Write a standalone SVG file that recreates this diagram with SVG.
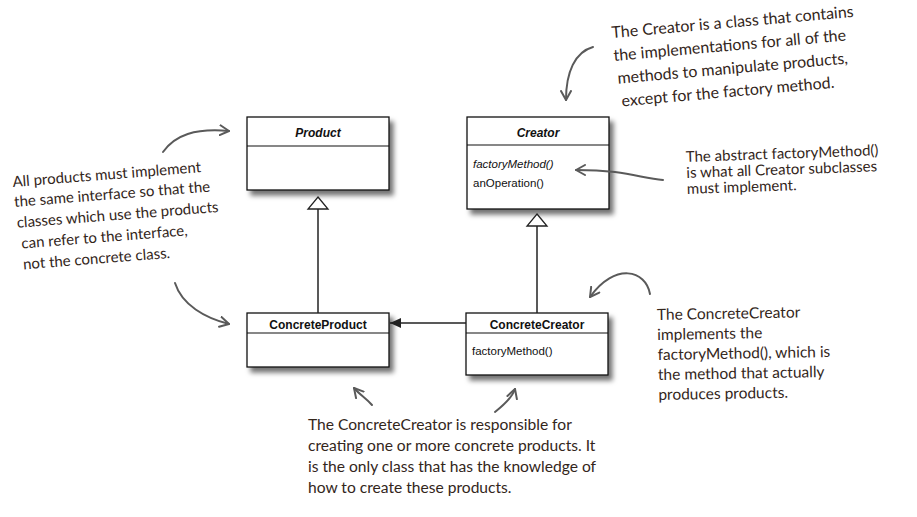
<svg xmlns="http://www.w3.org/2000/svg" width="917" height="517" viewBox="0 0 917 517">
<defs>
<filter id="sh" x="-10%" y="-10%" width="130%" height="140%">
<feDropShadow dx="4" dy="5" stdDeviation="2.5" flood-color="#000" flood-opacity="0.55"/>
</filter>
<marker id="hand" viewBox="0 0 12 12" refX="10" refY="6" markerWidth="12" markerHeight="12" markerUnits="userSpaceOnUse" orient="auto">
<path d="M1,1 L10,6 L1,11" fill="none" stroke="#5a5a5a" stroke-width="2" stroke-linecap="round" stroke-linejoin="round"/>
</marker>
<marker id="filled" viewBox="0 0 12 10" refX="11" refY="5" markerWidth="12" markerHeight="10" markerUnits="userSpaceOnUse" orient="auto">
<path d="M0,0 L11,5 L0,10 Z" fill="#222"/>
</marker>
</defs>
<style>
.box{fill:#fff;stroke:#111;stroke-width:1.3}
.div{stroke:#111;stroke-width:1.2}
.title{font-family:"Liberation Sans",Arial,sans-serif;font-size:12px;font-weight:bold;fill:#111}
.meth{font-family:"Liberation Sans",Arial,sans-serif;font-size:11.5px;fill:#111}
.edge{stroke:#222;stroke-width:1.5;fill:none}
.tri{fill:#fff;stroke:#222;stroke-width:1.3}
.callout{stroke:#5a5a5a;stroke-width:2;fill:none;stroke-linecap:round}
.note{font-family:Lato,"Open Sans",sans-serif;font-size:15px;fill:#33261b}
</style>
<rect width="917" height="517" fill="#fff"/>

<g id="Product">
<rect class="box" x="247" y="117" width="142" height="73" filter="url(#sh)"/>
<line class="div" x1="247" y1="146" x2="389" y2="146"/>
<text class="title" x="318" y="137" text-anchor="middle" font-style="italic">Product</text>
</g>

<g id="Creator">
<rect class="box" x="467" y="117" width="142" height="92" filter="url(#sh)"/>
<line class="div" x1="467" y1="145" x2="609" y2="145"/>
<text class="title" x="538" y="137" text-anchor="middle" font-style="italic">Creator</text>
<text class="meth" x="473" y="168" font-style="italic">factoryMethod()</text>
<text class="meth" x="473" y="187">anOperation()</text>
</g>

<g id="ConcreteProduct">
<rect class="box" x="247" y="313" width="142" height="54" filter="url(#sh)"/>
<line class="div" x1="247" y1="333" x2="389" y2="333"/>
<text class="title" x="318" y="329" text-anchor="middle">ConcreteProduct</text>
</g>

<g id="ConcreteCreator">
<rect class="box" x="466" y="313" width="142" height="62" filter="url(#sh)"/>
<line class="div" x1="466" y1="333" x2="608" y2="333"/>
<text class="title" x="537" y="329" text-anchor="middle">ConcreteCreator</text>
<text class="meth" x="472" y="355">factoryMethod()</text>
</g>

<g id="connectors">
<line class="edge" x1="318" y1="209" x2="318" y2="313"/>
<path class="tri" d="M318,197 L328,209 L308,209 Z"/>
<line class="edge" x1="537" y1="226" x2="537" y2="313"/>
<path class="tri" d="M537,214 L547,226 L527,226 Z"/>
<line class="edge" x1="466" y1="323" x2="390" y2="323" marker-end="url(#filled)"/>
</g>

<g id="callouts">
<path class="callout" d="M163,152 C175,135 195,128 229,131" marker-end="url(#hand)"/>
<path class="callout" d="M175,283 C182,305 205,318 229,324" marker-end="url(#hand)"/>
<path class="callout" d="M593,47 C575,52 566,72 566,100" marker-end="url(#hand)"/>
<path class="callout" d="M663,180 C640,178 625,170 576,170" marker-end="url(#hand)"/>
<path class="callout" d="M650,294 C646,270 615,262 590,297" marker-end="url(#hand)"/>
<path class="callout" d="M372,405 C366,398 360,395 354,388" marker-end="url(#hand)"/>
<path class="callout" d="M495,412 C504,405 512,398 515,389" marker-end="url(#hand)"/>
</g>

<g id="note-product" transform="translate(13,187) rotate(-4.5)">
<text class="note" x="0" y="0">All products must implement</text>
<text class="note" x="0" y="20">the same interface so that the</text>
<text class="note" x="1" y="41">classes which use the products</text>
<text class="note" x="4" y="62">can refer to the interface,</text>
<text class="note" x="4" y="83">not the concrete class.</text>
</g>

<g id="note-creator" transform="translate(612,38) rotate(-5)" font-size="16">
<text class="note" x="0" y="0" style="font-size:16px">The Creator is a class that contains</text>
<text class="note" x="0" y="23" style="font-size:16px">the implementations for all of the</text>
<text class="note" x="2" y="46" style="font-size:16px">methods to manipulate products,</text>
<text class="note" x="4" y="69" style="font-size:16px">except for the factory method.</text>
</g>

<g id="note-factory" transform="translate(686,162) rotate(-2)">
<text class="note" x="0" y="0">The abstract factoryMethod()</text>
<text class="note" x="0" y="16">is what all Creator subclasses</text>
<text class="note" x="0" y="32">must implement.</text>
</g>

<g id="note-concretecreator" transform="translate(657,320) rotate(-1)">
<text class="note" x="0" y="0" style="font-size:15.5px">The ConcreteCreator</text>
<text class="note" x="0" y="20" style="font-size:15.5px">implements the</text>
<text class="note" x="0" y="40" style="font-size:15.5px">factoryMethod(), which is</text>
<text class="note" x="0" y="60" style="font-size:15.5px">the method that actually</text>
<text class="note" x="0" y="80" style="font-size:15.5px">produces products.</text>
</g>

<g id="note-responsible">
<text class="note" x="308" y="430" style="font-size:15.6px">The ConcreteCreator is responsible for</text>
<text class="note" x="308" y="451" style="font-size:15.6px">creating one or more concrete products.  It</text>
<text class="note" x="308" y="472" style="font-size:15.6px">is the only class that has the knowledge of</text>
<text class="note" x="308" y="493" style="font-size:15.6px">how to create these products.</text>
</g>
</svg>
